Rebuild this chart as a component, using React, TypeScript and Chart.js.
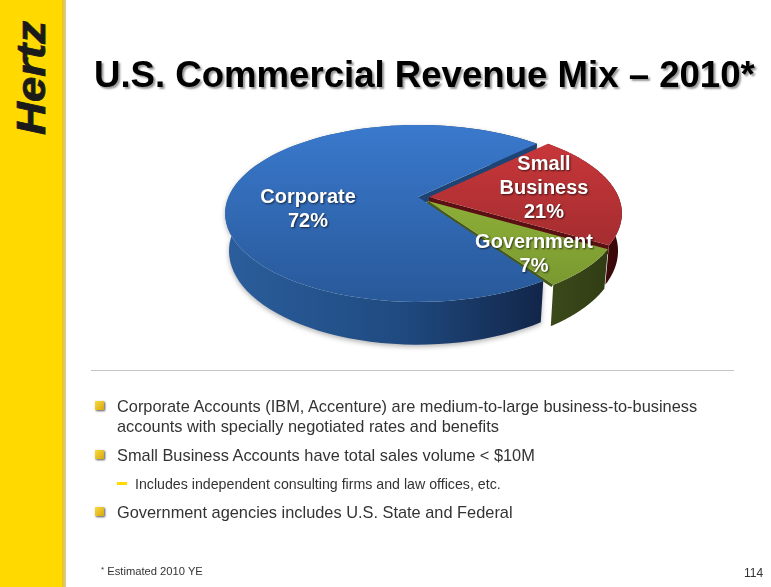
import React, { useEffect, useRef } from "react";
import { Chart, registerables } from "chart.js";

Chart.register(...registerables);

const categories = ["Corporate", "Small Business", "Government"];
const shares = [72, 21, 7];
const labelLines = [["Corporate", "72%"], ["Small", "Business", "21%"], ["Government", "7%"]];
const pageTitle = "U.S. Commercial Revenue Mix \u2013 2010*";
const footnote = "Estimated 2010 YE";
const pageNumber = "114";

const ROTATION = 146;
const K = 0.186;
const RX = 189.5;
const RY = 85.4;
const DEPTH = 36.5;
const STEPS = 90;
const apexes = [{ x: 418, y: 197 }, { x: 429, y: 197 }, { x: 428, y: 201 }];
const labelAnchors = [{ x: 308, y: 197 }, { x: 544, y: 164 }, { x: 534, y: 242 }];
const topColors = [["#3a79cd", "#28599a"], ["#cd383b", "#93282b"], ["#9fc03c", "#769630"]];
const sideColors = [["#2b5e9c", "#1f4a80", "#12264a"], ["#5c1012", "#4a0c0e", "#380808"], ["#3e4c1b", "#354215", "#2e3912"]];

const top = (o: any, a: number) => {
  const u = Math.cos(a), v = Math.sin(a), w = 1 - K * v;
  return { x: o.x + (RX * u) / w, y: o.y + (RY * v) / w };
};
const bottom = (o: any, a: number) => {
  const u = Math.cos(a), v = Math.sin(a), w = 1 - K * v;
  return { x: o.x + (0.98 * RX * u) / w, y: o.y + (0.98 * RY * v + DEPTH) / w };
};

function arcPts(fn: any, o: any, a0: number, a1: number) {
  const pts = [];
  for (let i = 0; i <= STEPS; i++) pts.push(fn(o, a0 + ((a1 - a0) * i) / STEPS));
  return pts;
}
function fillPoly(ctx: CanvasRenderingContext2D, pts: any[], fill: any) {
  ctx.beginPath();
  pts.forEach((p, i) => (i ? ctx.lineTo(p.x, p.y) : ctx.moveTo(p.x, p.y)));
  ctx.closePath();
  ctx.fillStyle = fill;
  ctx.fill();
}

const pie3d = {
  id: "pie3d",
  beforeDatasetsDraw(chart: any) {
    const ctx: CanvasRenderingContext2D = chart.ctx;
    const arcs = chart.getDatasetMeta(0).data;
    const sideGrad = (i: number) => {
      const g = ctx.createLinearGradient(225, 0, 620, 0);
      if (i === 0) {
        g.addColorStop(0, sideColors[0][0]);
        g.addColorStop(0.45, sideColors[0][1]);
        g.addColorStop(0.8, sideColors[0][2]);
      } else {
        g.addColorStop(0.8, sideColors[i][0]);
        g.addColorStop(1, sideColors[i][2]);
      }
      return g;
    };
    const topGrad = (i: number) => {
      const g = ctx.createLinearGradient(0, 125, 0, 300);
      g.addColorStop(0, topColors[i][0]);
      g.addColorStop(1, topColors[i][1]);
      return g;
    };
    // side surfaces first
    arcs.forEach((arc: any, i: number) => {
      const o = apexes[i];
      const outerTop = arcPts(top, o, arc.startAngle, arc.endAngle);
      const outerBot = arcPts(bottom, o, arc.startAngle, arc.endAngle);
      ctx.save();
      if (i === 0) {
        ctx.shadowColor = "rgba(0,0,0,0.3)";
        ctx.shadowBlur = 5;
        ctx.shadowOffsetY = 2;
      }
      fillPoly(ctx, [...outerTop, ...outerBot.reverse()], sideGrad(i));
      ctx.restore();
      if (i < 2) {
        const e = top(o, arc.endAngle);
        const wallDepth = 9;
        fillPoly(ctx, [o, e, { x: e.x - 1, y: e.y + wallDepth }, { x: o.x, y: o.y + wallDepth }], i === 0 ? "#1d4474" : "#5a1013");
      } else {
        const e = top(o, arc.endAngle);
        ctx.beginPath();
        ctx.moveTo(o.x - 1, o.y + 1);
        ctx.lineTo(e.x - 1, e.y + 1);
        ctx.strokeStyle = "#46581a";
        ctx.lineWidth = 3;
        ctx.stroke();
      }
    });
    // top faces back to front
    arcs.forEach((arc: any, i: number) => {
      const o = apexes[i];
      fillPoly(ctx, [o, ...arcPts(top, o, arc.startAngle, arc.endAngle)], topGrad(i));
    });
    ctx.save();
    ctx.font = "bold 20px 'Liberation Sans'";
    ctx.textAlign = "center";
    ctx.textBaseline = "middle";
    labelLines.forEach((lines, i) => {
      lines.forEach((line, j) => {
        const x = labelAnchors[i].x, y = labelAnchors[i].y + j * 24;
        ctx.shadowColor = "rgba(0,0,0,0.65)";
        ctx.shadowBlur = 2;
        ctx.shadowOffsetX = 1;
        ctx.shadowOffsetY = 1;
        ctx.fillStyle = "#ffffff";
        ctx.fillText(line, x, y);
      });
    });
    ctx.restore();
    return false;
  },
};

const abs = (o: React.CSSProperties): React.CSSProperties => ({ position: "absolute", whiteSpace: "nowrap", ...o });

function Bullet({ y }: { y: number }) {
  return (
    <div
      style={abs({
        left: 95,
        top: y,
        width: 9,
        height: 9,
        background: "linear-gradient(135deg,#f8dc3c,#d8a810)",
        boxShadow: "1px 1px 2px #555",
      })}
    />
  );
}

export default function App() {
  const ref = useRef<HTMLCanvasElement>(null);
  useEffect(() => {
    document.body.style.margin = "0";
    const chart = new Chart(ref.current as HTMLCanvasElement, {
      type: "pie",
      data: { labels: categories, datasets: [{ data: shares, borderWidth: 0 }] },
      options: {
        responsive: false,
        animation: false,
        rotation: ROTATION,
        plugins: { legend: { display: false }, tooltip: { enabled: false } },
      },
      plugins: [pie3d],
    } as any);
    return () => chart.destroy();
  }, []);

  const body: React.CSSProperties = { fontFamily: "'Liberation Sans'", color: "#333", fontSize: 16.38 };
  return (
    <div style={{ position: "absolute", left: 0, top: 0, width: 771, height: 587, background: "#fff", overflow: "hidden" }}>
      <canvas ref={ref} width={771} height={587} style={{ position: "absolute", left: 0, top: 0 }} />
      <div style={abs({ left: 0, top: 0, width: 62, height: 587, background: "#ffd900" })} />
      <div style={abs({ left: 62, top: 0, width: 4, height: 587, background: "linear-gradient(90deg,#e8c418,#d8cc98)" })} />
      <div
        style={abs({
          left: 31,
          top: 78,
          transform: "translate(-50%,-50%) rotate(-90deg) scaleX(1.14)",
          fontFamily: "'Liberation Sans'",
          fontWeight: 700,
          fontStyle: "italic",
          fontSize: 40,
          lineHeight: "40px",
          color: "#1a1a1a",
          WebkitTextStroke: "0.8px #1a1a1a",
        })}
      >
        Hertz
      </div>
      <div
        style={abs({
          left: 94,
          top: 54,
          fontFamily: "'Liberation Sans'",
          fontWeight: 700,
          fontSize: 36.6,
          lineHeight: "42px",
          color: "#000",
          textShadow: "2px 2px 2px #999",
        })}
      >
        {pageTitle}
      </div>
      <div style={abs({ left: 91, top: 370, width: 643, height: 1, background: "#c4c4c4" })} />
      <Bullet y={401} />
      <Bullet y={450} />
      <Bullet y={507} />
      <div style={abs({ ...body, left: 117, top: 397, lineHeight: "19.5px" })}>
        Corporate Accounts (IBM, Accenture) are medium-to-large business-to-business
        <br />
        accounts with specially negotiated rates and benefits
      </div>
      <div style={abs({ ...body, left: 117, top: 445, lineHeight: "20px" })}>Small Business Accounts have total sales volume &lt; $10M</div>
      <div style={abs({ left: 117, top: 482, width: 10, height: 3, background: "#ffd900" })} />
      <div style={abs({ ...body, left: 135, top: 475, fontSize: 14.2, lineHeight: "18px" })}>
        Includes independent consulting firms and law offices, etc.
      </div>
      <div style={abs({ ...body, left: 117, top: 502, lineHeight: "20px" })}>Government agencies includes U.S. State and Federal</div>
      <div style={abs({ ...body, left: 101, top: 562, fontSize: 11.2, lineHeight: "16px" })}>
        <span style={{ fontSize: 8, verticalAlign: "3px" }}>*</span> {footnote}
      </div>
      <div style={abs({ ...body, left: 744, top: 565, fontSize: 12, lineHeight: "16px" })}>{pageNumber}</div>
    </div>
  );
}
